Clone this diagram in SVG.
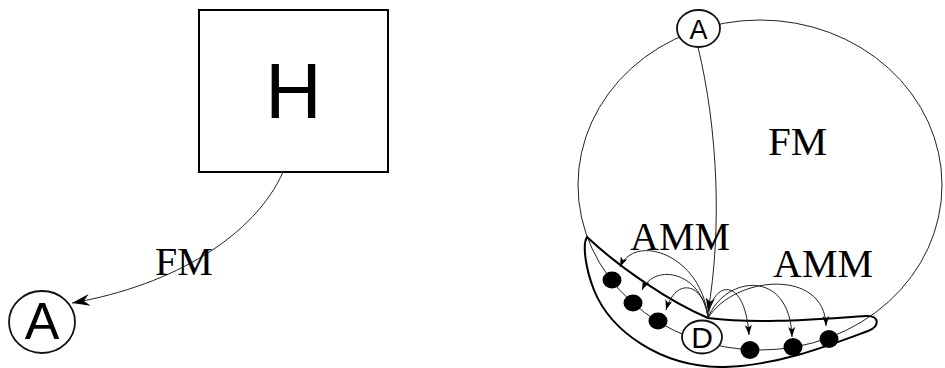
<svg xmlns="http://www.w3.org/2000/svg" width="945" height="368" viewBox="0 0 945 368">
<defs>
<style>
.thin{fill:none;stroke:#222;stroke-width:1}
.node{fill:#fff;stroke:#111;stroke-width:1.8}
.sans{font-family:"Liberation Sans","DejaVu Sans",sans-serif;fill:#000;text-anchor:middle}
.serif{font-family:"Liberation Serif","Times New Roman",serif;fill:#000}
.bead{fill:#000}
</style>
<marker id="bigvee" markerUnits="userSpaceOnUse" markerWidth="22" markerHeight="14" viewBox="0 -7 22 14" refX="20" refY="0" orient="auto">
<path d="M20,0 L2,-6 L8,0 L2,6 Z" fill="#000"/>
</marker>
<marker id="midvee" markerUnits="userSpaceOnUse" markerWidth="16" markerHeight="12" viewBox="0 -6 16 12" refX="15" refY="0" orient="auto">
<path d="M15,0 L1,-4.5 L4.5,0 L1,4.5 Z" fill="#000"/>
</marker>
<marker id="smallvee" markerUnits="userSpaceOnUse" markerWidth="11" markerHeight="8" viewBox="0 -4 11 8" refX="10" refY="0" orient="auto">
<path d="M10,0 L0,-3.5 L2.5,0 L0,3.5 Z" fill="#000"/>
</marker>
</defs>

<!-- left diagram -->
<g id="node-H">
<rect x="199" y="10" width="189" height="162" fill="#fff" stroke="#000" stroke-width="2"/>
<text class="sans" x="293.5" y="118" font-size="78">H</text>
</g>
<g id="connectors-left">
<path class="thin" d="M283,172 C255,235 175,285 72,303" marker-end="url(#bigvee)"/>
<text class="serif" x="155" y="275" font-size="40">FM</text>
</g>
<g id="node-A-left">
<ellipse class="node" cx="42" cy="322" rx="33" ry="31"/>
<text class="sans" x="42" y="339" font-size="52">A</text>
</g>

<!-- right diagram -->
<g id="cycle">
<ellipse class="thin" cx="760" cy="185" rx="182" ry="165"/>
</g>
<g id="group-banana">
<path d="M587,237 C620,268 670,302 708,318 C760,325 830,318 866,316 C880,315 880,327 868,331 C830,345 780,365 725,367 C660,368 610,330 594,290 C586,270 582,245 587,237 Z" fill="none" stroke="#000" stroke-width="2"/>
</g>
<g id="connectors-right">
<path class="thin" d="M698,47 C718,130 722,230 708,312" marker-end="url(#midvee)"/>
<path class="thin" d="M708,318 C702,255 635,232 620,267" marker-end="url(#smallvee)"/>
<path class="thin" d="M708,318 C702,272 655,262 642,290" marker-end="url(#smallvee)"/>
<path class="thin" d="M708,318 C704,283 676,276 666,310" marker-end="url(#smallvee)"/>
<path class="thin" d="M708,318 C712,280 745,275 749,335" marker-end="url(#smallvee)"/>
<path class="thin" d="M708,318 C725,275 790,268 792,337" marker-end="url(#smallvee)"/>
<path class="thin" d="M708,318 C735,275 825,268 826,326" marker-end="url(#smallvee)"/>
</g>
<g id="labels-right">
<text class="serif" x="768" y="155" font-size="41">FM</text>
<text class="serif" x="630" y="250" font-size="40">AMM</text>
<text class="serif" x="773" y="277" font-size="40">AMM</text>
</g>
<g id="beads">
<ellipse class="bead" cx="612" cy="280" rx="9.5" ry="8.5"/>
<ellipse class="bead" cx="633" cy="303" rx="9.5" ry="8.5"/>
<ellipse class="bead" cx="658" cy="321" rx="9.5" ry="8.5"/>
<ellipse class="bead" cx="750" cy="350" rx="9.5" ry="9"/>
<ellipse class="bead" cx="793" cy="347" rx="9.5" ry="9"/>
<ellipse class="bead" cx="829" cy="339" rx="9.5" ry="9"/>
</g>
<g id="node-A-right">
<ellipse class="node" cx="698.5" cy="28.5" rx="21.5" ry="18.5"/>
<text class="sans" x="698.5" y="38.5" font-size="27">A</text>
</g>
<g id="node-D">
<ellipse class="node" cx="702" cy="337" rx="20" ry="16.5"/>
<text class="sans" x="702" y="348" font-size="30">D</text>
</g>
</svg>
